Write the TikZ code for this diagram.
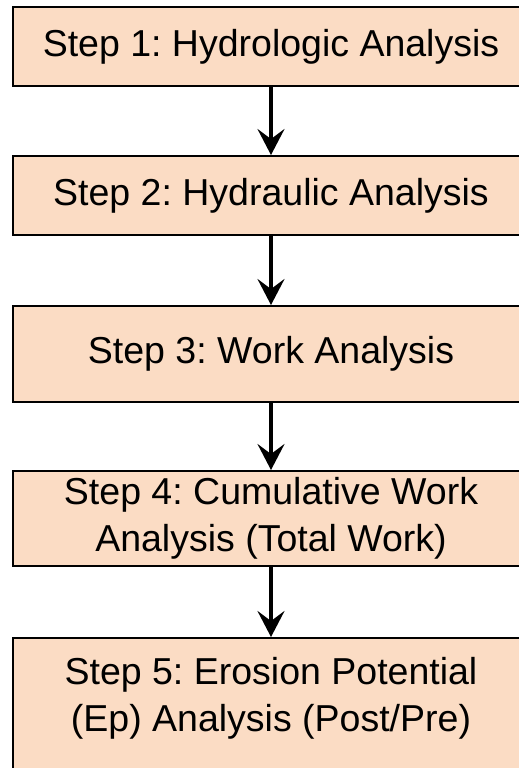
\documentclass[tikz,border=0pt]{standalone}
\usepackage{fontspec}
\setmainfont{Liberation Sans}
\usetikzlibrary{arrows.meta}
\definecolor{peach}{RGB}{251,220,196}
\tikzset{
  stepbox/.style={draw=black, line width=2pt, fill=peach, minimum width=516pt, inner sep=0pt, align=center, font=\fontsize{37.5}{47}\selectfont},
  flow/.style={line width=3.2pt, -{Stealth[length=26pt, width=27pt, inset=10pt]}}
}
\frenchspacing
\begin{document}
\begin{tikzpicture}[x=1pt,y=-1pt]
\useasboundingbox (0,0) rectangle (519,768);
\clip (0,0) rectangle (519,768);
\node[stepbox, minimum height=79pt] (s1) at (271,46.5) {Step 1: Hydrologic Analysis};
\node[stepbox, minimum height=79pt] (s2) at (271,195.5) {Step 2: Hydraulic Analysis};
\node[stepbox, minimum height=96pt] (s3) at (271,354) {Step 3: Work Analysis};
\node[stepbox, minimum height=95pt] (s4) at (271,518.5) {Step 4: Cumulative Work\\Analysis (Total Work)};
\node[stepbox, minimum height=170pt, anchor=north] (s5) at (271,637) {};
\node[align=center, inner sep=0pt, font=\fontsize{37.5}{47}\selectfont] (t5) at (271,698.5) {Step 5: Erosion Potential\\(Ep) Analysis (Post/Pre)};
\draw[flow] (s1.south) -- (s2.north);
\draw[flow] (s2.south) -- (s3.north);
\draw[flow] (s3.south) -- (s4.north);
\draw[flow] (s4.south) -- (s5.north);
\end{tikzpicture}
\end{document}
